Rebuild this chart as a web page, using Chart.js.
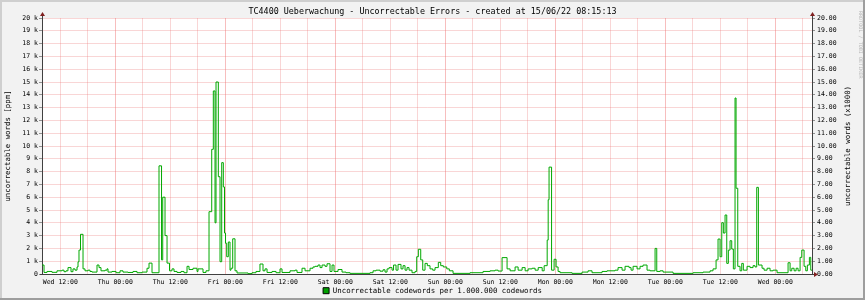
<!DOCTYPE html>
<html><head><meta charset="utf-8">
<script src="https://cdn.jsdelivr.net/npm/chart.js@4.4.1/dist/chart.umd.min.js"></script>
<style>html,body{margin:0;padding:0;background:#f2f2f2}</style>
</head><body>
<canvas id="c" width="865" height="300"></canvas>
<script>
// hours since Wed 08/06/22 00:00
const hours = [8.00, 8.44, 9.09, 10.18, 11.27, 12.36, 12.80, 13.24, 13.67, 14.33,
 14.76, 15.20, 15.64, 15.86, 16.07, 16.40, 16.95, 17.38, 18.04, 18.47,
 18.91, 20.00, 20.44, 20.87, 21.75, 22.18, 22.40, 23.27, 24.15, 25.02,
 25.67, 26.77, 27.86, 28.73, 29.82, 30.91, 31.35, 32.00, 33.53, 34.08,
 34.34, 34.84, 35.28, 35.82, 36.37, 36.80, 37.46, 38.33, 38.98, 39.64,
 40.08, 40.95, 41.82, 42.04, 43.13, 43.78, 44.44, 45.03, 45.38, 45.75,
 45.97, 46.47, 46.84, 47.21, 47.56, 47.82, 48.04, 48.30, 48.65, 49.02,
 49.24, 49.61, 50.11, 50.55, 52.95, 53.82, 54.69, 55.56, 56.22, 56.66,
 57.10, 58.19, 59.06, 59.93, 60.37, 62.11, 63.20, 63.64, 64.73, 65.39,
 66.48, 67.13, 67.57, 68.22, 68.66, 69.10, 69.75, 70.19, 70.84, 71.28,
 71.71, 72.59, 73.46, 74.33, 75.21, 79.57, 80.23, 80.88, 81.75, 82.41,
 82.84, 83.28, 83.72, 84.37, 84.70, 85.24, 85.68, 86.33, 86.77, 87.21,
 87.64, 88.08, 88.73, 89.39, 89.76, 90.11, 90.63, 91.07, 91.57, 92.07,
 92.66, 93.25, 93.75, 94.47, 94.99, 95.56, 96.31, 96.87, 97.68, 101.39,
 104.23, 105.76, 106.85, 107.51, 108.38, 109.47, 110.13, 111.22, 111.88, 112.75,
 113.41, 114.06, 114.94, 115.59, 116.26, 117.13, 117.56, 118.22, 118.44, 118.63,
 119.18, 119.73, 120.16, 120.60, 121.03, 123.65, 125.83, 127.14, 128.01, 130.19,
 131.28, 133.03, 133.68, 134.56, 135.21, 136.08, 136.52, 136.96, 137.83, 138.48,
 139.14, 140.01, 140.67, 141.76, 142.13, 142.85, 143.51, 145.68, 150.05, 152.23,
 153.76, 154.41, 155.07, 155.50, 155.94, 156.31, 156.66, 157.03, 157.40, 157.75,
 158.12, 158.49, 158.84, 159.21, 159.43, 159.80, 160.30, 160.67, 161.02, 161.83,
 162.48, 163.14, 163.57, 163.94, 164.30, 165.10, 165.54, 166.20, 166.85, 167.51,
 168.38, 170.78, 171.22, 171.59, 172.09, 172.53, 172.96, 173.40, 173.77, 174.27,
 174.64, 174.99, 175.43, 175.73, 176.00];

// uncorrectable codewords per 1.000.000 codewords
const errorsPpm = [700, 120, 200, 130, 250, 300, 180, 250, 500, 180,
 400, 300, 550, 950, 1870, 3100, 400, 250, 300, 200,
 150, 700, 500, 250, 300, 400, 150, 200, 100, 250,
 150, 120, 200, 100, 150, 450, 850, 100, 8450, 1100,
 6000, 3000, 850, 250, 400, 200, 120, 200, 100, 600,
 350, 450, 200, 400, 120, 250, 4870, 9740, 14300, 4000,
 15000, 7600, 960, 8700, 6800, 3200, 2400, 1350, 2500, 300,
 450, 2750, 250, 80, 30, 100, 200, 780, 250, 400,
 120, 200, 100, 400, 120, 250, 300, 120, 450, 250,
 450, 550, 600, 700, 500, 700, 600, 800, 200, 700,
 200, 350, 150, 100, 50, 100, 250, 300, 220, 330,
 150, 400, 500, 300, 700, 300, 750, 400, 650, 300,
 500, 300, 100, 200, 1350, 1930, 1100, 300, 830, 650,
 400, 300, 500, 910, 650, 550, 400, 250, 50, 100,
 200, 250, 300, 230, 1280, 400, 250, 550, 300, 500,
 250, 400, 450, 300, 500, 250, 650, 2650, 5800, 8350,
 300, 1150, 550, 200, 100, 50, 150, 250, 100, 200,
 250, 300, 500, 300, 600, 500, 300, 600, 400, 600,
 700, 300, 250, 2000, 200, 250, 150, 50, 100, 150,
 250, 400, 1100, 2730, 1350, 4010, 3200, 4610, 830, 1870,
 2600, 1950, 400, 13750, 6700, 600, 250, 830, 300, 600,
 500, 650, 550, 6770, 700, 450, 300, 450, 250, 300,
 100, 880, 250, 450, 250, 450, 250, 1300, 1870, 600,
 250, 700, 1300, 300, 300];

const xTickHours = [12, 24, 36, 48, 60, 72, 84, 96, 108, 120, 132, 144, 156, 168];
const xTickLabels = ['Wed 12:00','Thu 00:00','Thu 12:00','Fri 00:00','Fri 12:00','Sat 00:00','Sat 12:00',
  'Sun 00:00','Sun 12:00','Mon 00:00','Mon 12:00','Tue 00:00','Tue 12:00','Wed 00:00'];

const titleText = 'TC4400 Ueberwachung - Uncorrectable Errors - created at 15/06/22 08:15:13';
const seriesLabel = 'Uncorrectable codewords per 1.000.000 codewords';
const leftAxisTitle = 'uncorrectable words [ppm]';
const rightAxisTitle = 'uncorrectable words (x1000)';
const watermark = 'RRDTOOL / TOBI OETIKER';

const MONO = 'DejaVu Sans Mono';
const GRID_MINOR = 'rgba(235,120,120,0.30)';
const GRID_MAJOR = 'rgba(235,100,100,0.42)';
const AXIS = '#404040';
const ARROW = '#802020';
const LINE = '#00a800';

const extras = {
  id: 'extras',
  beforeDraw(chart) {
    const {ctx, chartArea: a} = chart;
    ctx.save();
    ctx.fillStyle = '#f2f2f2';
    ctx.fillRect(0, 0, chart.width, chart.height);
    ctx.fillStyle = '#ffffff';
    ctx.fillRect(a.left, a.top, a.right - a.left, a.bottom - a.top);
    ctx.fillStyle = '#cfcfcf';
    ctx.fillRect(0, 0, chart.width, 2);
    ctx.fillRect(0, 0, 2, chart.height);
    ctx.fillStyle = '#9e9e9e';
    ctx.fillRect(0, chart.height - 2, chart.width, 2);
    ctx.fillRect(chart.width - 2, 0, 2, chart.height);
    ctx.restore();
  },
  afterDraw(chart) {
    const {ctx, chartArea: a} = chart;
    ctx.save();
    ctx.strokeStyle = AXIS;
    ctx.lineWidth = 1;
    ctx.beginPath();
    ctx.moveTo(a.left + 0.5, a.top + 1); ctx.lineTo(a.left + 0.5, a.top - 3);
    ctx.moveTo(a.right + 0.5, a.top + 1); ctx.lineTo(a.right + 0.5, a.top - 3);
    ctx.moveTo(a.left - 2, a.bottom + 0.5); ctx.lineTo(a.left, a.bottom + 0.5);
    ctx.moveTo(a.right, a.bottom + 0.5); ctx.lineTo(a.right + 3, a.bottom + 0.5);
    ctx.stroke();
    ctx.fillStyle = ARROW;
    const up = (x, y) => { ctx.beginPath(); ctx.moveTo(x - 2.5, y + 4); ctx.lineTo(x + 2.5, y + 4); ctx.lineTo(x, y); ctx.closePath(); ctx.fill(); };
    up(a.left + 0.5, a.top - 6);
    up(a.right + 0.5, a.top - 6);
    ctx.beginPath(); ctx.moveTo(a.right + 2, a.bottom + 0.5 - 2.5); ctx.lineTo(a.right + 2, a.bottom + 0.5 + 2.5); ctx.lineTo(a.right + 6, a.bottom + 0.5); ctx.closePath(); ctx.fill();
    ctx.fillStyle = '#000';
    ctx.font = '7.4px "' + MONO + '"';
    ctx.textAlign = 'center';
    ctx.textBaseline = 'middle';
    ctx.translate(848, (a.top + a.bottom) / 2);
    ctx.rotate(-Math.PI / 2);
    ctx.fillText(rightAxisTitle, 0, 0);
    ctx.restore();
    ctx.save();
    ctx.fillStyle = '#b8b8b8';
    ctx.font = '5.1px "' + MONO + '"';
    ctx.textAlign = 'left';
    ctx.textBaseline = 'middle';
    ctx.translate(860, 11);
    ctx.rotate(Math.PI / 2);
    ctx.fillText(watermark, 0, 0);
    ctx.restore();
  }
};

new Chart(document.getElementById('c'), {
  type: 'line',
  data: {
    datasets: [{
      label: seriesLabel,
      data: hours.map((h, i) => ({x: h, y: errorsPpm[i]})),
      stepped: true,
      borderColor: LINE,
      backgroundColor: '#00a000',
      borderWidth: 1,
      pointRadius: 0,
      fill: false,
      yAxisID: 'y'
    }]
  },
  options: {
    responsive: false,
    animation: false,
    devicePixelRatio: 1,
    layout: {padding: 0},
    plugins: {
      title: {
        display: true, text: titleText, color: '#000',
        font: {family: MONO, size: 8.4, weight: 'normal', lineHeight: '10px'},
        padding: {top: 7, bottom: 1}
      },
      legend: {
        display: true, position: 'bottom', maxHeight: 13,
        labels: {
          font: {family: MONO, size: 7.4}, color: '#000',
          boxWidth: 6, boxHeight: 6, padding: 0,
          generateLabels: () => [{text: seriesLabel, fillStyle: '#00a000', strokeStyle: '#000', lineWidth: 1, hidden: false, datasetIndex: 0}]
        }
      },
      tooltip: {enabled: false}
    },
    scales: {
      x: {
        type: 'linear', min: 8, max: 176,
        afterFit: s => { s.height = 300 - 274 - s.chart.legend.height; },
        afterBuildTicks: s => {
          const t = [];
          for (let h = 12; h <= 174; h += 6) t.push({value: h});
          s.ticks = t;
        },
        ticks: {
          autoSkip: false, maxRotation: 0, padding: 4, color: '#000',
          font: {family: MONO, size: 6.5, lineHeight: '7.8px'},
          callback: v => { const i = xTickHours.indexOf(v); return i >= 0 ? xTickLabels[i] : ''; }
        },
        grid: {
          drawTicks: false,
          color: c => (c.tick && c.tick.value % 24 === 0) ? GRID_MAJOR : GRID_MINOR
        },
        border: {display: true, color: AXIS, width: 1}
      },
      y: {
        position: 'left', min: 0, max: 20000,
        afterFit: s => { s.width = 42; },
        ticks: {
          stepSize: 1000, padding: 1, color: '#000',
          font: {family: MONO, size: 6.5, lineHeight: '7.8px'},
          callback: v => v === 0 ? '0' : (v / 1000) + ' k'
        },
        grid: {color: GRID_MINOR, tickColor: '#909090', tickLength: 3},
        border: {display: true, color: AXIS, width: 1},
        title: {
          display: true, text: leftAxisTitle, color: '#000',
          font: {family: MONO, size: 7.4, lineHeight: '9px'},
          padding: {top: 3.5, bottom: 0}
        }
      },
      y2: {
        position: 'right', min: 0, max: 20,
        afterFit: s => { s.width = 53; },
        ticks: {
          stepSize: 1, padding: 2, color: '#000',
          font: {family: MONO, size: 6.5, lineHeight: '7.8px'},
          callback: v => v.toFixed(2)
        },
        grid: {drawOnChartArea: false, tickColor: '#909090', tickLength: 3},
        border: {display: true, color: AXIS, width: 1}
      }
    }
  },
  plugins: [extras]
});
</script>
</body></html>
